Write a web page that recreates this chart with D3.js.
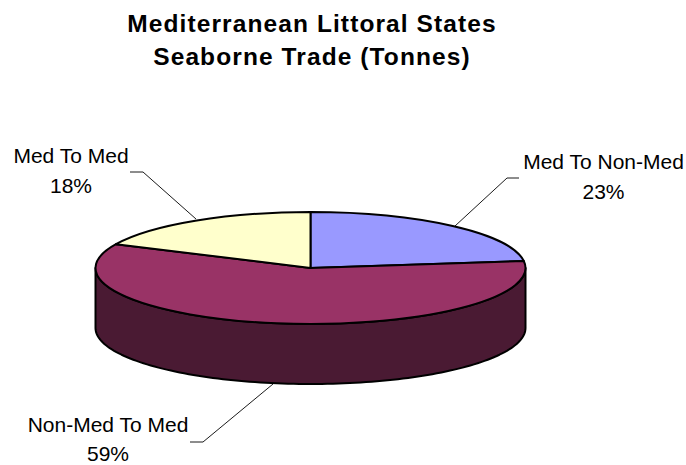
<!DOCTYPE html>
<html><head><meta charset="utf-8">
<script src="https://cdn.jsdelivr.net/npm/d3@7"></script>
<style>html,body{margin:0;background:#fff}svg{display:block}text{font-family:"Liberation Sans",Arial,sans-serif;fill:#000}</style>
</head><body><div id="c"></div>
<script>
const categories=["Med To Non-Med","Non-Med To Med","Med To Med"];
const values=[23,59,18];
const topColors=["#9999ff","#993366","#ffffcc"];
const sideColors=["#4d4d80","#4a1a33","#808066"];
const titleLines=["Mediterranean Littoral States","Seaborne Trade (Tonnes)"];
const W=686,H=465,cx=310.5,cy=268,rx=215,ry=56,depth=60;
const svg=d3.select("#c").append("svg").attr("width",W).attr("height",H);
svg.selectAll(".t").data(titleLines).join("text").attr("class","t")
 .attr("x",312).attr("y",(d,i)=>32+i*32.5).attr("text-anchor","middle")
 .attr("font-size",24.5).attr("font-weight","bold").attr("letter-spacing",1.1).text(d=>d);
const pie=d3.pie().sort(null).value(d=>d)(values);
const px=a=>cx+rx*Math.sin(a), py=a=>cy-ry*Math.cos(a);
const wall=d3.area().x(px).y0(py).y1(a=>py(a)+depth);
pie.forEach((s,i)=>{
 const a0=Math.max(s.startAngle,Math.PI/2),a1=Math.min(s.endAngle,Math.PI*1.5);
 if(a1<=a0)return;
 svg.append("path").attr("d",wall(d3.range(0,121).map(k=>a0+(a1-a0)*k/120)))
  .attr("fill",sideColors[i]).attr("stroke","#000").attr("stroke-width",2).attr("stroke-linejoin","round");
});
const arc=d3.arc().innerRadius(0).outerRadius(rx);
svg.append("g").attr("transform",`translate(${cx},${cy}) scale(1,${ry/rx})`)
 .selectAll("path").data(pie).join("path").attr("d",arc)
 .attr("fill",(d,i)=>topColors[i]).attr("stroke","#000").attr("stroke-width",2)
 .attr("stroke-linejoin","round").attr("vector-effect","non-scaling-stroke");
const labelPos=[[603.5,169,199],[108,432,460.5],[71,163,193]];
pie.forEach((s,i)=>{
 const g=svg.append("g").attr("text-anchor","middle").attr("font-size",21);
 g.append("text").attr("x",labelPos[i][0]).attr("y",labelPos[i][1]).text(categories[i]);
 g.append("text").attr("x",labelPos[i][0]).attr("y",labelPos[i][2]).text(d3.format(".0%")(values[i]/100));
});
const leaders=[[[455,226],[507,178],[519,178]],[[273,384],[203,442],[190,442]],[[196,219],[143,172],[130,172]]];
svg.selectAll(".l").data(leaders).join("path").attr("class","l").attr("d",d3.line())
 .attr("fill","none").attr("stroke","#000").attr("stroke-width",0.9);
</script></body></html>
